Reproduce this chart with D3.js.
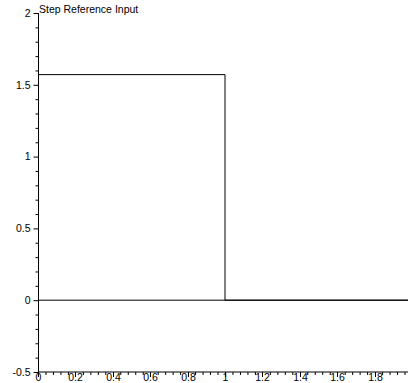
<!DOCTYPE html>
<html>
<head>
<meta charset="utf-8">
<script src="https://cdn.jsdelivr.net/npm/d3@7"></script>
<style>
  body { margin: 0; background: #fff; }
  text { font-family: "Liberation Sans", Arial, sans-serif; fill: #000; }
</style>
</head>
<body>
<svg width="408" height="383"></svg>
<script>
var svg = d3.select("svg"),
    width = +svg.attr("width"),
    height = +svg.attr("height");

var title = "Step Reference Input";

// step reference: pi/2 until t = 1, then zero
var stepTime = [0, 1, 1, 2];
var stepValue = [1.5708, 1.5708, 0, 0];

// zero line drawn across the plot
var zeroTime = [0, 2];
var zeroValue = [0, 0];

var xMajor = [0, 0.2, 0.4, 0.6, 0.8, 1, 1.2, 1.4, 1.6, 1.8];
var yMajor = [-0.5, 0, 0.5, 1, 1.5, 2];

var x = d3.scaleLinear()
    .domain([0, 2])
    .range([38, 412]);

var y = d3.scaleLinear()
    .domain([-0.5, 2])
    .range([372, 13]);

var line = d3.line()
    .x(function(d) { return x(d[0]); })
    .y(function(d) { return y(d[1]); });

// curves
svg.append("path")
    .datum(zeroTime.map(function(t, i) { return [t, zeroValue[i]]; }))
    .attr("fill", "none")
    .attr("stroke", "#000")
    .attr("d", line);

svg.append("path")
    .datum(stepTime.map(function(t, i) { return [t, stepValue[i]]; }))
    .attr("fill", "none")
    .attr("stroke", "#000")
    .attr("d", line);

// minor ticks, 4 between each major
var xMinor = d3.range(0, 2.001, 0.04).filter(function(v) {
  return Math.abs(v * 5 - Math.round(v * 5)) > 1e-6;
});
var yMinor = d3.range(-0.5, 2.001, 0.1).filter(function(v) {
  return Math.abs(v * 2 - Math.round(v * 2)) > 1e-6;
});

// x axis along the bottom
var gx = svg.append("g")
    .attr("transform", "translate(0," + y(-0.5) + ")");

gx.call(d3.axisBottom(x)
    .tickValues(xMinor)
    .tickSize(3)
    .tickFormat(""))
  .select(".domain").remove();

gx.append("line")
    .attr("x1", x(0)).attr("x2", width)
    .attr("stroke", "#000");

var xt = gx.selectAll(".major")
    .data(xMajor)
  .enter().append("g")
    .attr("class", "major")
    .attr("transform", function(d) { return "translate(" + (Math.round(x(d)) + 0.5) + ",0)"; });

xt.append("line")
    .attr("y2", 5)
    .attr("stroke", "#000");

xt.append("text")
    .attr("y", 9)
    .attr("text-anchor", "middle")
    .attr("font-size", "10.5px")
    .text(function(d) { return String(d); });

// y axis on the left
var gy = svg.append("g")
    .attr("transform", "translate(" + (x(0) + 0.5) + ",0)");

gy.call(d3.axisLeft(y)
    .tickValues(yMinor)
    .tickSize(3)
    .tickFormat(""))
  .select(".domain").remove();

gy.append("line")
    .attr("y1", y(2)).attr("y2", y(-0.5))
    .attr("stroke", "#000");

gy.append("g")
    .call(d3.axisLeft(y)
      .tickValues(yMajor)
      .tickSize(5)
      .tickPadding(3)
      .tickFormat(function(d) { return String(d); }))
  .call(function(g) {
    g.selectAll(".domain").remove();
    g.selectAll("text")
        .attr("font-size", "10.5px")
        .attr("font-family", "Liberation Sans, Arial, sans-serif");
  });

svg.selectAll(".tick line").attr("stroke", "#000");

// title
svg.append("text")
    .attr("x", x(0) + 1)
    .attr("y", 13)
    .attr("font-size", "10.5px")
    .text(title);
</script>
</body>
</html>
